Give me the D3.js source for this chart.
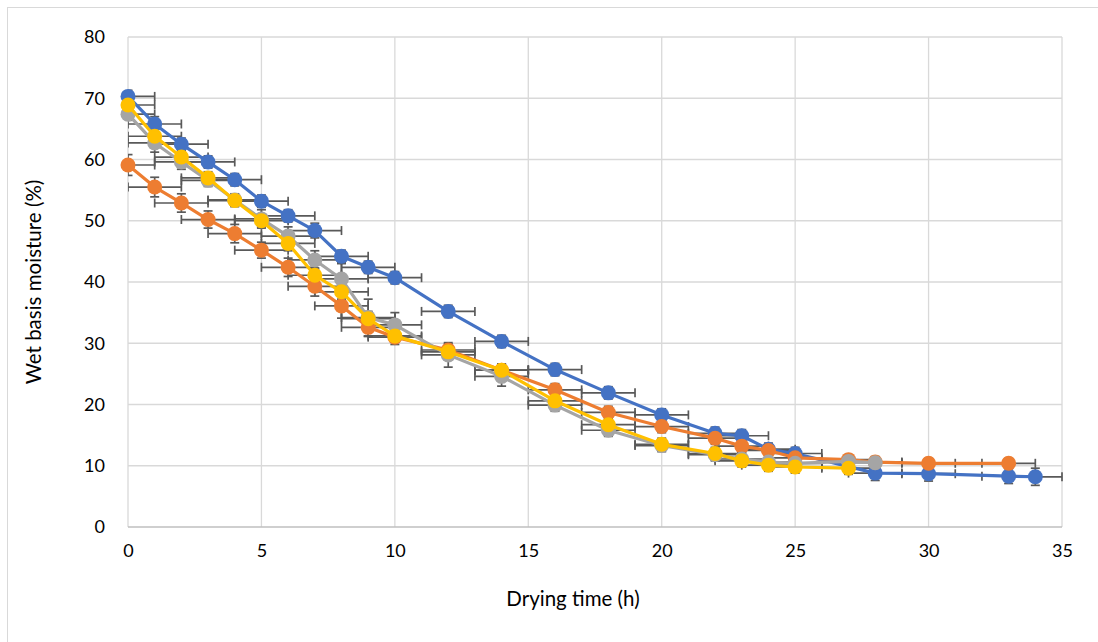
<!DOCTYPE html>
<html>
<head>
<meta charset="utf-8">
<script src="https://cdn.jsdelivr.net/npm/d3@7"></script>
<style>
  html, body { margin: 0; padding: 0; background: #fff; }
  svg { display: block; }
  text { font-family: Lato, "Open Sans", "Liberation Sans", sans-serif; fill: #000; }
</style>
</head>
<body>
<script>
// ---- data ----
const blueX = [0,1,2,3,4,5,6,7,8,9,10,12,14,16,18,20,22,23,24,25,28,30,33,34];
const blueY = [70.3,65.8,62.5,59.6,56.7,53.2,50.8,48.4,44.2,42.4,40.7,35.2,30.3,25.7,21.9,18.3,15.3,14.9,12.7,12.0,8.8,8.7,8.3,8.2];
const blueErr = [1.0,1.2,1.0,1.0,1.0,1.0,1.0,1.2,1.0,1.0,1.0,1.0,1.0,1.0,1.0,1.0,1.0,1.0,1.0,1.0,1.2,1.2,1.2,1.4];

const orangeX = [0,1,2,3,4,5,6,7,8,9,10,12,14,16,18,20,22,23,24,25,27,28,30,33];
const orangeY = [59.1,55.5,52.9,50.2,47.9,45.2,42.4,39.3,36.1,32.6,31.0,28.9,25.6,22.4,18.7,16.4,14.5,13.2,12.5,11.3,11.0,10.6,10.4,10.4];
const orangeErr = [1.7,1.6,1.5,1.4,1.5,1.3,1.5,1.6,2.0,1.5,1.2,1.0,1.0,1.0,1.0,1.0,1.0,1.0,0.9,0.9,0.8,0.8,0.8,0.8];

const grayX = [0,1,2,3,4,5,6,7,8,9,10,12,14,16,18,20,22,23,24,25,27,28];
const grayY = [67.4,62.7,59.6,56.6,53.4,50.3,47.5,43.6,40.5,34.2,33.0,28.1,24.6,19.9,15.8,13.3,11.8,11.1,10.6,10.4,10.7,10.5];
const grayErr = [1.0,1.5,1.2,1.0,1.0,1.5,1.5,1.5,2.5,3.0,2.0,2.0,1.6,1.0,1.0,1.0,1.0,1.0,1.0,1.0,1.0,1.0];

const yellowX = [0,1,2,3,4,5,6,7,8,9,10,12,14,16,18,20,22,23,24,25,27];
const yellowY = [68.9,63.8,60.4,57.0,53.3,50.0,46.3,41.1,38.4,34.0,31.2,28.6,25.6,20.6,16.7,13.5,12.0,10.8,10.1,9.8,9.6];
const yellowErr = [1.0,1.2,1.0,1.0,1.0,1.0,1.2,1.2,1.2,1.2,1.0,1.0,1.0,1.0,1.0,1.0,1.0,1.0,1.0,1.0,1.0];

const xErrorHours = 1;
const xTicks = [0,5,10,15,20,25,30,35];
const yTicks = [0,10,20,30,40,50,60,70,80];
const xTitle = "Drying time (h)";
const yTitle = "Wet basis moisture (%)";

const seriesColors = ["#4472C4", "#ED7D31", "#A5A5A5", "#FFC000"];

const series = [
  {x: blueX, y: blueY, e: blueErr},
  {x: orangeX, y: orangeY, e: orangeErr},
  {x: grayX, y: grayY, e: grayErr},
  {x: yellowX, y: yellowY, e: yellowErr}
].map((s, i) => ({color: seriesColors[i], pts: s.x.map((xv, j) => ({x: xv, y: s.y[j], e: s.e[j]}))}));

// ---- layout ----
const W = 1098, H = 642;
const pL = 128, pR = 1062, pT = 37, pB = 527;

const svg = d3.select("body").append("svg").attr("width", W).attr("height", H);

// chart border
svg.append("rect").attr("x", 7.5).attr("y", 7.5).attr("width", 1100).attr("height", 700)
  .attr("fill", "#fff").attr("stroke", "#d9d9d9").attr("stroke-width", 1);

const x = d3.scaleLinear().domain([0, 35]).range([pL, pR]);
const y = d3.scaleLinear().domain([0, 80]).range([pB, pT]);

// gridlines
const grid = svg.append("g");
grid.selectAll("line.h").data(yTicks.filter(t => t > 0)).join("line")
  .attr("x1", pL).attr("x2", pR)
  .attr("y1", d => y(d)).attr("y2", d => y(d))
  .attr("stroke", "#d9d9d9").attr("stroke-width", 1.3);
grid.selectAll("line.v").data(xTicks).join("line")
  .attr("x1", d => x(d)).attr("x2", d => x(d))
  .attr("y1", pT).attr("y2", pB)
  .attr("stroke", "#d9d9d9").attr("stroke-width", 1.3);

// x axis line
svg.append("line").attr("x1", pL).attr("x2", pR).attr("y1", pB).attr("y2", pB)
  .attr("stroke", "#bfbfbf").attr("stroke-width", 1.3);

// axes (labels only)
const xAxis = d3.axisBottom(x).tickValues(xTicks).tickSize(0).tickPadding(17).tickFormat(d3.format("d"));
const gx = svg.append("g").attr("transform", `translate(0,${pB})`).call(xAxis);
gx.select(".domain").remove();
gx.selectAll("text").style("font-size", "18px").attr("fill", "#000");

const yAxis = d3.axisLeft(y).tickValues(yTicks).tickSize(0).tickPadding(23).tickFormat(d3.format("d"));
const gy = svg.append("g").attr("transform", `translate(${pL},0)`).call(yAxis);
gy.select(".domain").remove();
gy.selectAll("text").style("font-size", "18px").attr("fill", "#000");

// titles
svg.append("text").attr("x", (pL + pR) / 2 - 22).attr("y", 606)
  .attr("text-anchor", "middle").style("font-size", "20.5px").text(xTitle);
svg.append("text").attr("transform", `translate(41,${(pT + pB) / 2}) rotate(-90)`)
  .attr("text-anchor", "middle").style("font-size", "20.5px").text(yTitle);

// clip
svg.append("clipPath").attr("id", "plotclip").append("rect")
  .attr("x", pL).attr("y", pT - 10).attr("width", pR - pL + 1).attr("height", pB - pT + 10);

// error bars
const errG = svg.append("g").attr("clip-path", "url(#plotclip)");
const capH = 4.5;
const errColor = "#595959";
series.forEach(s => {
  const g = errG.append("g");
  s.pts.forEach(p => {
    const cx = x(p.x), cy = y(p.y);
    const x0 = x(p.x - xErrorHours), x1 = x(p.x + xErrorHours);
    const y0 = y(p.y - p.e), y1 = y(p.y + p.e);
    const segs = [
      [x0, cy, x1, cy],
      [x0, cy - capH, x0, cy + capH],
      [x1, cy - capH, x1, cy + capH],
      [cx, y0, cx, y1],
      [cx - capH, y0, cx + capH, y0],
      [cx - capH, y1, cx + capH, y1]
    ];
    segs.forEach(sg => g.append("line")
      .attr("x1", sg[0]).attr("y1", sg[1]).attr("x2", sg[2]).attr("y2", sg[3])
      .attr("stroke", errColor).attr("stroke-width", 1.7));
  });
});

// lines and markers
const line = d3.line().x(d => x(d.x)).y(d => y(d.y));
series.forEach(s => {
  svg.append("path").datum(s.pts).attr("d", line)
    .attr("fill", "none").attr("stroke", s.color).attr("stroke-width", 3.2)
    .attr("stroke-linejoin", "round");
  svg.append("g").selectAll("circle").data(s.pts).join("circle")
    .attr("cx", d => x(d.x)).attr("cy", d => y(d.y)).attr("r", 7.5)
    .attr("fill", s.color);
});
</script>
</body>
</html>
